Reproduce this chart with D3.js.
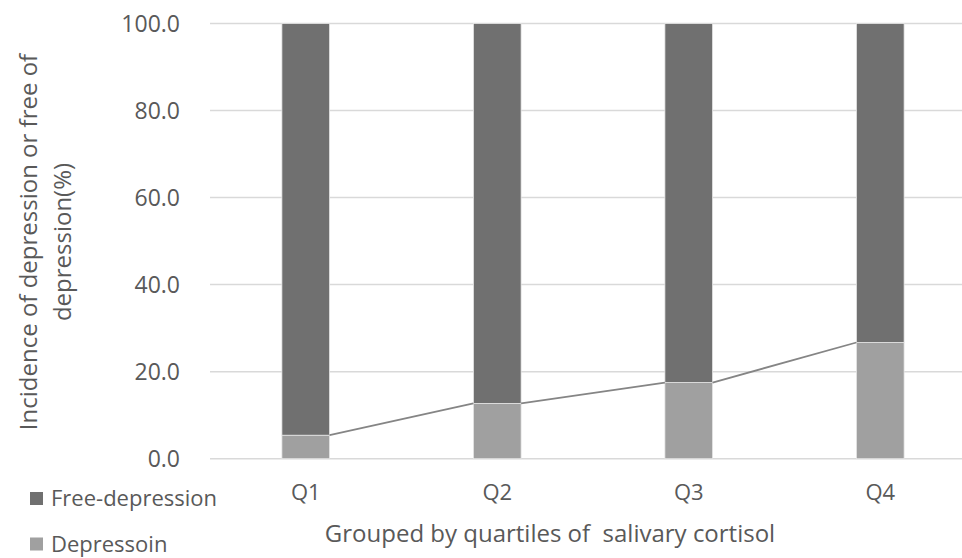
<!DOCTYPE html>
<html>
<head>
<meta charset="utf-8">
<script src="https://cdn.jsdelivr.net/npm/d3@7/dist/d3.min.js"></script>
<style>
  html, body { margin: 0; padding: 0; background: #fff; }
  svg { display: block; }
  text { font-family: "Open Sans", "Noto Sans", sans-serif; fill: #595959; }
</style>
</head>
<body>
<svg id="chart" width="962" height="558"></svg>
<script>
// Quartile groups and the share (%) of each group with / without depression
const categories = ["Q1", "Q2", "Q3", "Q4"];
const depression = [5.4, 12.7, 17.5, 26.7];
const freeDepression = [94.6, 87.3, 82.5, 73.3];
const yTicks = [0, 20, 40, 60, 80, 100];
const seriesNames = ["Free-depression", "Depressoin"];
const yTitleLines = ["Incidence of depression or free of", "depression(%)"];
const xTitle = "Grouped by quartiles of  salivary cortisol";

const colors = { free: "#707070", dep: "#a0a0a0", grid: "#d9d9d9", line: "#858585" };

const svg = d3.select("#chart");
const plot = { left: 210, right: 976, top: 23.5, bottom: 458.7 };

// the plot area runs past the right edge of the page
const x = d3.scaleBand()
  .domain(categories)
  .range([plot.left, plot.right])
  .paddingInner(0.751)
  .paddingOuter(0.3755);

const y = d3.scaleLinear().domain([0, 100]).range([plot.bottom, plot.top]);

// horizontal gridlines
svg.append("g")
  .selectAll("line")
  .data(yTicks)
  .join("line")
  .attr("x1", plot.left).attr("x2", plot.right)
  .attr("y1", d => y(d)).attr("y2", d => y(d))
  .attr("stroke", colors.grid)
  .attr("stroke-width", 1.5);

// y tick labels
svg.append("g")
  .selectAll("text")
  .data(yTicks)
  .join("text")
  .attr("x", 180)
  .attr("y", d => y(d))
  .attr("dy", "0.35em")
  .attr("text-anchor", "end")
  .attr("font-size", 23)
  .text(d => d.toFixed(1));

// stacked bars: depression at the bottom, free of depression on top
const rows = categories.map((c, i) => ({ c, dep: depression[i], free: freeDepression[i] }));

const barG = svg.append("g");
barG.selectAll("rect.dep")
  .data(rows)
  .join("rect")
  .attr("class", "dep")
  .attr("x", d => x(d.c))
  .attr("width", x.bandwidth())
  .attr("y", d => y(d.dep))
  .attr("height", d => y(0) - y(d.dep))
  .attr("fill", colors.dep)
  .attr("stroke", "#e6e6e6")
  .attr("stroke-width", 0.8);

barG.selectAll("rect.free")
  .data(rows)
  .join("rect")
  .attr("class", "free")
  .attr("x", d => x(d.c))
  .attr("width", x.bandwidth())
  .attr("y", d => y(d.dep + d.free))
  .attr("height", d => y(d.dep) - y(d.dep + d.free))
  .attr("fill", colors.free)
  .attr("stroke", "#e6e6e6")
  .attr("stroke-width", 0.8);

// series lines joining the tops of the depression segments
const seg = [];
for (let i = 0; i < rows.length - 1; i++) {
  seg.push({
    x1: x(rows[i].c) + x.bandwidth(), y1: y(rows[i].dep),
    x2: x(rows[i + 1].c), y2: y(rows[i + 1].dep)
  });
}
svg.append("g")
  .selectAll("line")
  .data(seg)
  .join("line")
  .attr("x1", d => d.x1).attr("y1", d => d.y1)
  .attr("x2", d => d.x2).attr("y2", d => d.y2)
  .attr("stroke", colors.line)
  .attr("stroke-width", 1.8);

// x category labels
svg.append("g")
  .selectAll("text")
  .data(categories)
  .join("text")
  .attr("x", d => x(d) + x.bandwidth() / 2)
  .attr("y", 500)
  .attr("text-anchor", "middle")
  .attr("font-size", 22)
  .text(d => d);

// x axis title
svg.append("text")
  .attr("x", 550)
  .attr("y", 542)
  .attr("text-anchor", "middle")
  .attr("font-size", 24)
  .attr("xml:space", "preserve")
  .style("white-space", "pre")
  .text(xTitle);

// y axis title, two lines rotated
const yt = svg.append("text")
  .attr("transform", "translate(0,242) rotate(-90)")
  .attr("text-anchor", "middle")
  .attr("font-size", 24);
yt.append("tspan").attr("x", 0).attr("y", 37).text(yTitleLines[0]);
yt.append("tspan").attr("x", 0).attr("y", 71).text(yTitleLines[1]);

// legend
const legend = svg.append("g");
const legendRows = [
  { name: seriesNames[0], color: colors.free, y: 498.5 },
  { name: seriesNames[1], color: colors.dep, y: 544 }
];
legend.selectAll("rect")
  .data(legendRows)
  .join("rect")
  .attr("x", 30).attr("y", d => d.y - 6.5)
  .attr("width", 13).attr("height", 13)
  .attr("fill", d => d.color);
legend.selectAll("text")
  .data(legendRows)
  .join("text")
  .attr("x", 51)
  .attr("y", d => d.y)
  .attr("dy", "0.35em")
  .attr("font-size", 22)
  .text(d => d.name);
</script>
</body>
</html>
